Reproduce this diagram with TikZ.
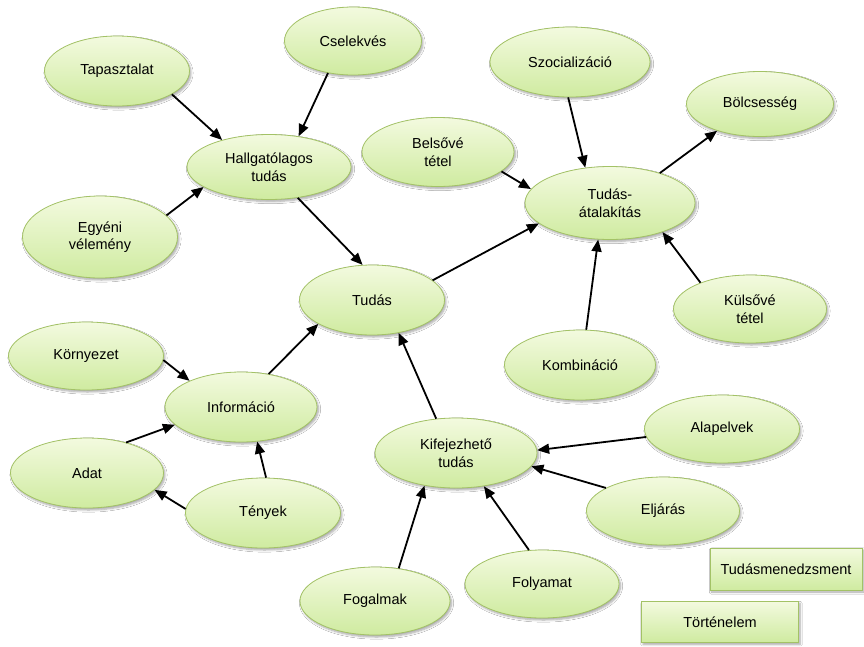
\documentclass[tikz,border=0pt]{standalone}
\usepackage{fontspec}
\setmainfont{Liberation Sans}
\usetikzlibrary{shapes.geometric,arrows.meta,shadows.blur}

\definecolor{conceptTop}{HTML}{F3FADF}
\definecolor{conceptBottom}{HTML}{CFEBA0}
\definecolor{conceptEdge}{HTML}{A3C266}

\tikzset{
  concept/.style={ellipse, draw=conceptEdge, line width=0.8pt,
    top color=conceptTop, bottom color=conceptBottom,
    align=center, inner sep=0pt,
    font=\fontsize{14.5}{17.5}\selectfont,
    blur shadow={shadow xshift=1.5pt, shadow yshift=-2pt,
                 shadow blur steps=6, shadow opacity=35}},
  tagbox/.style={rectangle, draw=conceptEdge, line width=0.8pt,
    top color=conceptTop, bottom color=conceptBottom,
    align=center, inner sep=0pt,
    font=\fontsize{14.5}{17.5}\selectfont,
    blur shadow={shadow xshift=1.5pt, shadow yshift=-2pt,
                 shadow blur steps=6, shadow opacity=35}},
  link/.style={-{Triangle[length=12pt,width=10pt]}, line width=1.8pt}
}

\begin{document}
\begin{tikzpicture}[x=1pt, y=-1pt]
  \fill[white] (0,0) rectangle (864,646);
  \useasboundingbox (0,0) rectangle (864,646);

  % tacit branch
  \node[concept, minimum width=145pt, minimum height=70pt] (tap)   at (117,71)  {Tapasztalat};
  \node[concept, minimum width=137pt, minimum height=68pt] (csel)  at (353,41)  {Cselekvés};
  \node[concept, minimum width=164pt, minimum height=65pt] (hall)  at (269,167) {Hallgatólagos\\tudás};
  \node[concept, minimum width=155pt, minimum height=82pt] (egy)   at (100,237) {Egyéni\\vélemény};

  % centre
  \node[concept, minimum width=145pt, minimum height=70pt] (tud)   at (372,300) {Tudás};

  % conversion branch
  \node[concept, minimum width=152pt, minimum height=69pt] (bels)  at (438,152) {Belsővé\\tétel};
  \node[concept, minimum width=160pt, minimum height=70pt] (szoc)  at (570,62)  {Szocializáció};
  \node[concept, minimum width=170pt, minimum height=73pt] (atal)  at (610,203) {Tudás-\\átalakítás};
  \node[concept, minimum width=147pt, minimum height=65pt] (bolcs) at (760,104) {Bölcsesség};
  \node[concept, minimum width=153pt, minimum height=68pt] (kuls)  at (750,309) {Külsővé\\tétel};
  \node[concept, minimum width=151pt, minimum height=70pt] (komb)  at (580,365) {Kombináció};

  % information branch
  \node[concept, minimum width=155pt, minimum height=68pt] (korny) at (86,356)  {Környezet};
  \node[concept, minimum width=152pt, minimum height=70pt] (info)  at (241,407) {Információ};
  \node[concept, minimum width=153pt, minimum height=70pt] (adat)  at (87,473)  {Adat};
  \node[concept, minimum width=155pt, minimum height=70pt] (teny)  at (263,513) {Tények};

  % explicit branch
  \node[concept, minimum width=162pt, minimum height=70pt] (kif)   at (456,453) {Kifejezhető\\tudás};
  \node[concept, minimum width=155pt, minimum height=68pt] (alap)  at (722,429) {Alapelvek};
  \node[concept, minimum width=153pt, minimum height=68pt] (elj)   at (663,511) {Eljárás};
  \node[concept, minimum width=154pt, minimum height=68pt] (foly)  at (542,584) {Folyamat};
  \node[concept, minimum width=150pt, minimum height=68pt] (fog)   at (375,601) {Fogalmak};

  % category tags
  \node[tagbox, minimum width=152pt, minimum height=42pt] (menedzs) at (786,569) {Tudásmenedzsment};
  \node[tagbox, minimum width=157pt, minimum height=41pt] (tort)    at (720,622) {Történelem};

  % connectors
  \draw[link] (tap.-23)   -- (hall.150);
  \draw[link] (csel.-128) -- (hall.46);
  \draw[link] (egy.18)    -- (hall.197);
  \draw[link] (hall.-47)  -- (tud.105);
  \draw[link] (tud.18)    -- (atal.196);
  \draw[link] (bels.-17)  -- (atal.170);
  \draw[link] (szoc.-93)  -- (atal.125);
  \draw[link] (atal.31)   -- (bolcs.212);
  \draw[link] (kuls.152)  -- (atal.-29);
  \draw[link] (komb.80)   -- (atal.-108);
  \draw[link] (korny.-3)  -- (info.153);
  \draw[link] (info.50)   -- (tud.204);
  \draw[link] (adat.38)   -- (info.195);
  \draw[link] (teny.177)  -- (adat.-14);
  \draw[link] (teny.85)   -- (info.-65);
  \draw[link] (kif.120)   -- (tud.-51);
  \draw[link] (alap.186)  -- (kif.2);
  \draw[link] (elj.158)   -- (kif.-10);
  \draw[link] (foly.111)  -- (kif.-50);
  \draw[link] (fog.54)    -- (kif.-134);
\end{tikzpicture}
\end{document}
